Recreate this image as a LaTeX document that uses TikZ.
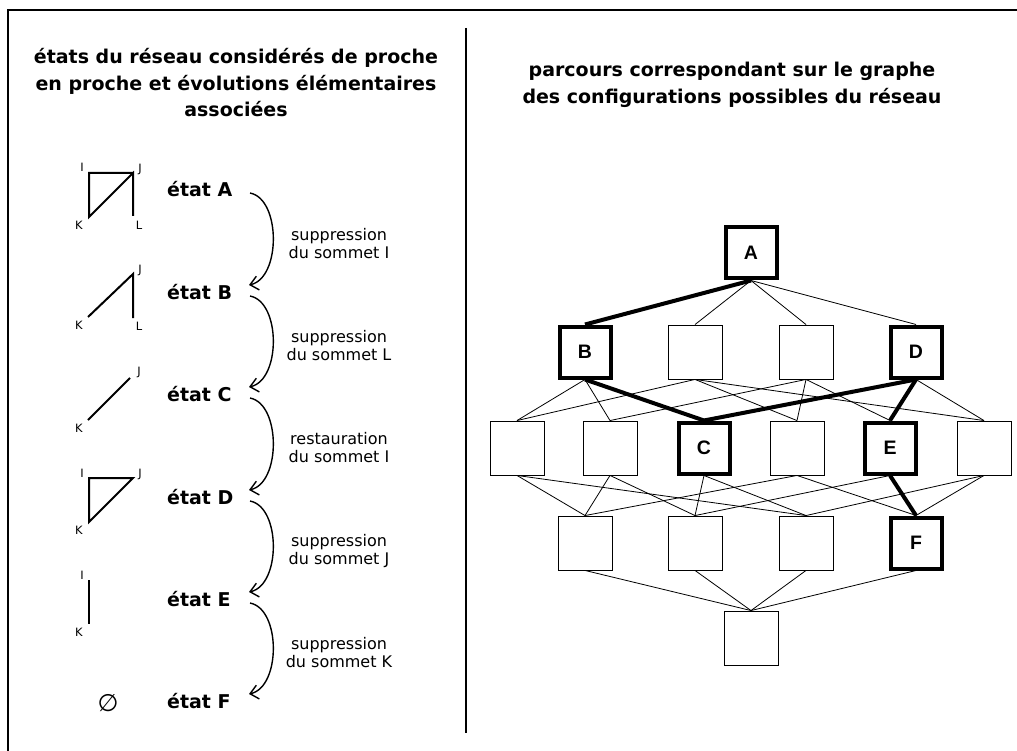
\documentclass[tikz,border=0pt]{standalone}
\usepackage{fontspec}
\setmainfont{DejaVu Sans}
\newfontfamily\arialfont{Liberation Sans}
\usetikzlibrary{arrows.meta}
\tikzset{
 thinbox/.style={draw, line width=0.9pt, minimum size=54pt, inner sep=0pt},
 thickbox/.style={draw, line width=4pt, minimum size=51pt, inner sep=0pt, font=\arialfont\bfseries\fontsize{19.5}{19.5}\selectfont},
 thinedge/.style={line width=0.8pt},
 thickedge/.style={line width=4pt},
 statelab/.style={anchor=base west, inner sep=0pt, font=\bfseries\fontsize{19}{19}\selectfont},
 evol/.style={align=center, font=\fontsize{16}{18}\selectfont, inner sep=0pt},
 vlab/.style={font=\fontsize{11.5}{11.5}\selectfont, inner sep=0pt},
 netedge/.style={line width=2pt},
 evarrow/.style={line width=1.4pt, -{Straight Barb[length=8pt,width=14pt]}},
 title/.style={align=center, font=\bfseries\fontsize{19}{26.5}\selectfont, inner sep=0pt},
}
\begin{document}
\begin{tikzpicture}[x=1pt,y=-1pt]
\useasboundingbox (0,0) rectangle (1017,751);
% frame and divider
\draw[line width=2pt] (8,751) -- (8,10) -- (1017,10);
\draw[line width=2pt] (466,28) -- (466,733);
% titles
\node[title] (tl) at (236,83) {états du réseau considérés de proche\\en proche et évolutions élémentaires\\associées};
\node[title] (tr) at (732,85) {parcours correspondant sur le graphe\\des configurations possibles du réseau};
% state labels
\node[statelab] (sA) at (167,197) {état A};
\node[statelab] (sB) at (167,299) {état B};
\node[statelab] (sC) at (167,401) {état C};
\node[statelab] (sD) at (167,504) {état D};
\node[statelab] (sE) at (167,606) {état E};
\node[statelab] (sF) at (167,708) {état F};
% arcs
\coordinate (a1) at (250,193); \coordinate (b1) at (249,285);
\coordinate (a2) at (250,296); \coordinate (b2) at (249,387);
\coordinate (a3) at (250,398); \coordinate (b3) at (249,490);
\coordinate (a4) at (250,501); \coordinate (b4) at (249,592);
\coordinate (a5) at (250,603); \coordinate (b5) at (249,694);
\draw[evarrow] (a1) .. controls (281,199) and (281,278) .. (b1);
\draw[evarrow] (a2) .. controls (281,302) and (281,380) .. (b2);
\draw[evarrow] (a3) .. controls (281,404) and (281,483) .. (b3);
\draw[evarrow] (a4) .. controls (281,507) and (281,585) .. (b4);
\draw[evarrow] (a5) .. controls (281,609) and (281,687) .. (b5);
\node[evol] (t1) at (339,244) {suppression\\du sommet I};
\node[evol] (t2) at (339,346) {suppression\\du sommet L};
\node[evol] (t3) at (339,448) {restauration\\du sommet I};
\node[evol] (t4) at (339,551) {suppression\\du sommet J};
\node[evol] (t5) at (339,653) {suppression\\du sommet K};
% left network drawings
% state A
\coordinate (AI) at (89,173); \coordinate (AJ) at (133,173);
\coordinate (AK) at (89,217); \coordinate (AL) at (133,216);
\draw[netedge] (AJ) -- (AI) -- (AK) -- (AJ) -- (AL);
\node[vlab] (lAI) at (82,167) {I}; \node[vlab] (lAJ) at (140,169) {J};
\node[vlab] (lAK) at (79,225) {K}; \node[vlab] (lAL) at (139,225) {L};
% state B
\coordinate (BJ) at (133,274); \coordinate (BK) at (88,317); \coordinate (BL) at (133,318);
\draw[netedge] (BK) -- (BJ) -- (BL);
\node[vlab] (lBJ) at (140,270) {J};
\node[vlab] (lBK) at (79,325) {K}; \node[vlab] (lBL) at (139,326) {L};
% state C
\coordinate (CJ) at (130,378); \coordinate (CK) at (88,420);
\draw[netedge] (CK) -- (CJ);
\node[vlab] (lCJ) at (139,372) {J}; \node[vlab] (lCK) at (79,428) {K};
% state D
\coordinate (DI) at (89,478); \coordinate (DJ) at (133,478); \coordinate (DK) at (89,522);
\draw[netedge] (DJ) -- (DI) -- (DK) -- cycle;
\node[vlab] (lDI) at (82,473) {I}; \node[vlab] (lDJ) at (140,474) {J};
\node[vlab] (lDK) at (79,530) {K};
% state E
\coordinate (EI) at (89,580); \coordinate (EK) at (89,624);
\draw[netedge] (EI) -- (EK);
\node[vlab] (lEI) at (82,575) {I}; \node[vlab] (lEK) at (79,632) {K};
% state F
\node[inner sep=0pt, font=\fontsize{24}{24}\selectfont] (empty) at (108,703) {∅};
% right graph
\node[thickbox] (A) at (751,253) {A};
\node[thickbox] (B) at (585,352) {B};
\node[thinbox] (R2) at (695,352) {};
\node[thinbox] (R3) at (806,352) {};
\node[thickbox] (D) at (916,352) {D};
\node[thinbox] (P1) at (517,448) {};
\node[thinbox] (P2) at (610,448) {};
\node[thickbox] (C) at (704,448) {C};
\node[thinbox] (P4) at (797,448) {};
\node[thickbox] (E) at (890,448) {E};
\node[thinbox] (P6) at (984,448) {};
\node[thinbox] (Q1) at (585,543) {};
\node[thinbox] (Q2) at (695,543) {};
\node[thinbox] (Q3) at (806,543) {};
\node[thickbox] (F) at (916,543) {F};
\node[thinbox] (Z) at (751,638) {};
% thin edges
\foreach \u/\v in {A/R2, A/R3, A/D,
  B/P1, B/P2, R2/P1, R2/P4, R2/P6, R3/P2, R3/P4, R3/E, D/P6,
  P1/Q1, P1/Q3, P2/Q1, P2/Q2, C/Q2, C/Q3, P4/Q1, P4/F, E/Q2, P6/Q3, P6/F,
  Q1/Z, Q2/Z, Q3/Z, F/Z}
  \draw[thinedge] (\u.south) -- (\v.north);
% thick path
\draw[thickedge] (A.south) -- (B.north);
\draw[thickedge] (B.south) -- (C.north);
\draw[thickedge] (D.south) -- (C.north);
\draw[thickedge] (D.south) -- (E.north);
\draw[thickedge] (E.south) -- (F.north);
\end{tikzpicture}
\end{document}
